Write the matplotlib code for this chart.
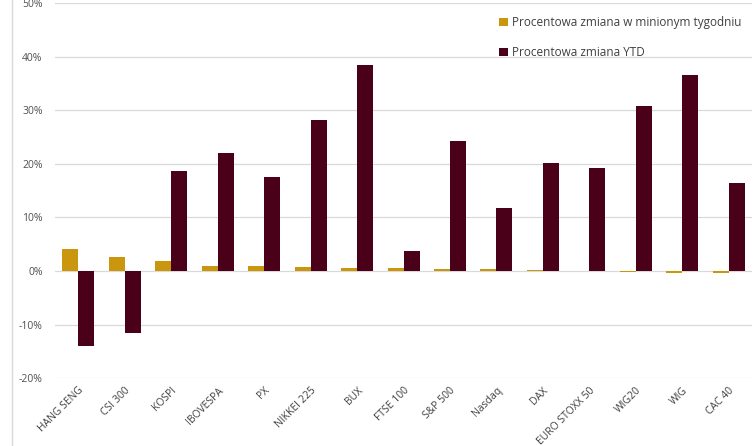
import numpy as np
import matplotlib.pyplot as plt
from matplotlib.lines import Line2D

# ===== data =====
indices = ["HANG SENG", "CSI 300", "KOSPI", "IBOVESPA", "PX", "NIKKEI 225", "BUX",
           "FTSE 100", "S&P 500", "Nasdaq", "DAX", "EURO STOXX 50", "WIG20", "WIG", "CAC 40"]
week_pct = [4.2, 2.6, 1.9, 1.0, 1.0, 0.8, 0.6, 0.5, 0.4, 0.4, 0.2, 0.0, -0.2, -0.3, -0.4]
ytd_pct = [-13.9, -11.5, 18.7, 22.1, 17.6, 28.1, 38.4, 3.7, 24.3, 11.8, 20.2, 19.3, 30.8, 36.5, 16.5]
y_ticks = [-20, -10, 0, 10, 20, 30, 40, 50]

label_week = "Procentowa zmiana w minionym tygodniu"
label_ytd = "Procentowa zmiana YTD"

GOLD = "#C9960E"
MAROON = "#4B0019"

plt.rcParams["font.family"] = ["Open Sans", "DejaVu Sans"]

fig = plt.figure(figsize=(7.55, 4.46), dpi=100)
ax = fig.add_axes([0.073, 0.152, 0.923, 0.841])

x = np.arange(len(indices))
w = 0.345
ax.bar(x - w / 2, week_pct, w, color=GOLD, label=label_week, zorder=3)
ax.bar(x + w / 2, ytd_pct, w, color=MAROON, label=label_ytd, zorder=3)

ax.set_xlim(-0.5, len(indices) - 0.5)
ax.set_ylim(-20, 50)
ax.set_yticks(y_ticks)
ax.set_yticklabels([f"{v}%" for v in y_ticks])
ax.grid(axis="y", color="#D9D9D9", lw=0.9, zorder=0)
for s in ax.spines.values():
    s.set_visible(False)
ax.tick_params(axis="y", length=0, pad=9, labelsize=7.5, labelcolor="#505050")
ax.tick_params(axis="x", length=0, pad=5, labelsize=7.5, labelcolor="#404040")
ax.set_xticks(x)
ax.set_xticklabels(indices, rotation=45, ha="right", rotation_mode="anchor")

# chart frame edge on the left
fig.add_artist(Line2D([0.016, 0.016], [0, 1], color="#D9D9D9", lw=1))

ax.legend(loc="upper left", bbox_to_anchor=(0.655, 0.975), bbox_transform=fig.transFigure,
          frameon=False, fontsize=8.5, labelcolor="#404040", handlelength=0.7,
          handleheight=0.7, handletextpad=0.4, labelspacing=1.45, borderaxespad=0)

fig.savefig("out.png", dpi=100)
